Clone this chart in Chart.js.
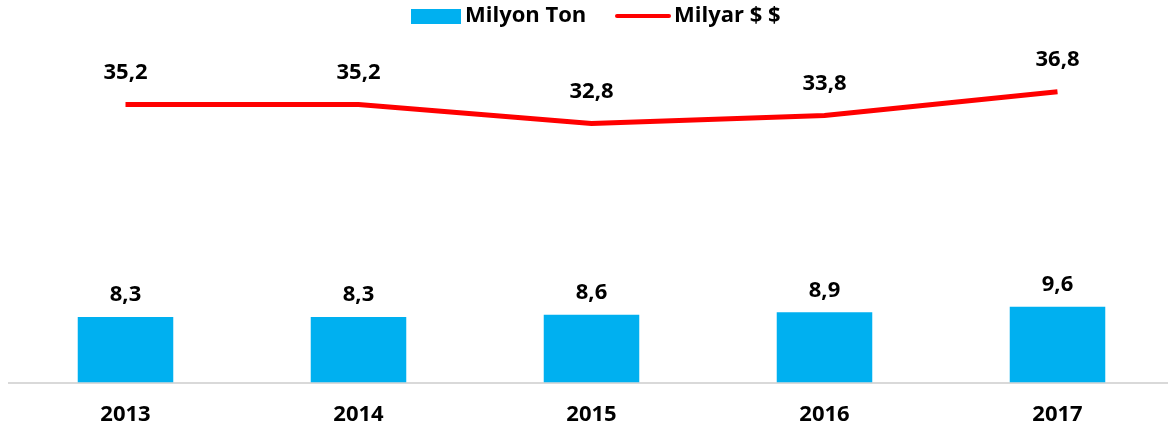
<!DOCTYPE html>
<html>
<head>
<meta charset="utf-8">
<script src="https://cdn.jsdelivr.net/npm/chart.js@4/dist/chart.umd.min.js"></script>
<style>
html,body{margin:0;padding:0;background:#fff;overflow:hidden;}
#wrap{position:relative;width:1174px;height:447px;}
</style>
</head>
<body>
<div id="wrap"><canvas id="c"></canvas></div>
<script>
const categories = ['2013', '2014', '2015', '2016', '2017'];
const milyonTon = [8.3, 8.3, 8.6, 8.9, 9.6];
const milyarDolar = [35.2, 35.2, 32.8, 33.8, 36.8];
const seriesNames = ['Milyon Ton', 'Milyar $ $'];

const FONT = '"Open Sans", Lato, sans-serif';
const FSIZE = 22;
const BLUE = '#00b0f0';
const RED = '#ff0000';

const fmt = v => v.toFixed(1).replace('.', ',');

const labelPlugin = {
  id: 'valueLabels',
  afterDatasetsDraw(chart) {
    const ctx = chart.ctx;
    ctx.save();
    ctx.font = 'bold ' + FSIZE + 'px ' + FONT;
    ctx.fillStyle = '#000';
    ctx.textAlign = 'center';
    ctx.textBaseline = 'middle';
    chart.data.datasets.forEach((ds, i) => {
      const meta = chart.getDatasetMeta(i);
      const off = ds.type === 'line' ? 32 : 22;
      meta.data.forEach((el, j) => {
        ctx.fillText(fmt(ds.data[j]), el.x, el.y - off);
      });
    });
    ctx.restore();
  }
};

const legendPlugin = {
  id: 'customLegend',
  afterDraw(chart) {
    const ctx = chart.ctx;
    ctx.save();
    ctx.font = 'bold ' + FSIZE + 'px ' + FONT;
    ctx.fillStyle = '#000';
    ctx.textBaseline = 'middle';
    ctx.textAlign = 'left';
    const y = 16;
    ctx.fillStyle = BLUE;
    ctx.fillRect(411, 9, 50, 15);
    ctx.fillStyle = '#000';
    ctx.fillText(seriesNames[0], 465, y);
    ctx.strokeStyle = RED;
    ctx.lineWidth = 4;
    ctx.lineCap = 'round';
    ctx.beginPath();
    ctx.moveTo(617, y);
    ctx.lineTo(669, y);
    ctx.stroke();
    ctx.fillText(seriesNames[1], 674, y);
    ctx.restore();
  }
};

new Chart(document.getElementById('c'), {
  data: {
    labels: categories,
    datasets: [
      {
        type: 'line',
        label: seriesNames[1],
        data: milyarDolar,
        borderColor: RED,
        backgroundColor: RED,
        borderWidth: 5,
        pointRadius: 0,
        tension: 0,
        order: 0
      },
      {
        type: 'bar',
        label: seriesNames[0],
        data: milyonTon,
        backgroundColor: BLUE,
        borderWidth: 0,
        categoryPercentage: 0.41,
        barPercentage: 1.0,
        order: 1
      }
    ]
  },
  options: {
    responsive: true,
    maintainAspectRatio: false,
    animation: false,
    layout: { padding: { left: 9, right: 0, top: 27, bottom: 0 } },
    plugins: {
      legend: { display: false },
      tooltip: { enabled: false }
    },
    scales: {
      x: {
        grid: { display: false, drawTicks: false },
        border: { display: true, color: '#d9d9d9', width: 2 },
        ticks: { color: '#000', font: { family: FONT, size: FSIZE, weight: 'bold' }, padding: 19 }
      },
      y: {
        display: false,
        min: 0,
        max: 45
      }
    }
  },
  plugins: [labelPlugin, legendPlugin]
});
</script>
</body>
</html>
